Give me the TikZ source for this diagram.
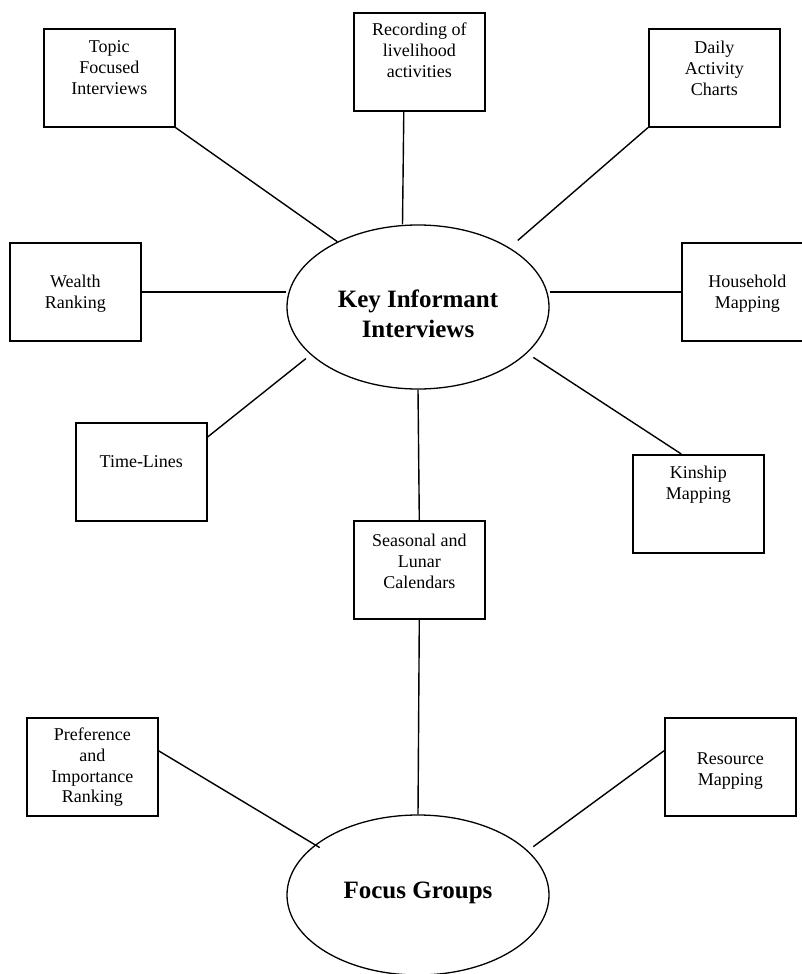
\documentclass[tikz,border=0pt]{standalone}
\usepackage{fontspec}
\setmainfont{Liberation Serif}
\usetikzlibrary{shapes.geometric,calc}
\newcommand{\boxtxt}[2]{\parbox[c][98pt][t]{131pt}{\centering\fontsize{18}{20.6}\selectfont\rule{0pt}{#1}#2}}
\newcommand{\elltxt}[3]{\parbox[c][#1][t]{180pt}{\centering\fontsize{25}{30}\selectfont\bfseries\rule{0pt}{#2}#3}}
\tikzset{
  infobox/.style={draw, line width=1.6pt, inner sep=0pt, anchor=north west},
  hub/.style={ellipse, draw, line width=1.3pt, inner sep=0pt, minimum width=262pt},
  link/.style={line width=1.4pt}
}
\begin{document}
\begin{tikzpicture}[x=1pt,y=-1pt]
\useasboundingbox (0,0) rectangle (802,974);
% hubs
\node[hub, minimum height=164pt] (key) at (418,307) {\elltxt{60pt}{30pt}{Key Informant\\Interviews}};
\node[hub, minimum height=160pt] (focus) at (418,895) {\elltxt{66pt}{36pt}{Focus Groups}};
% boxes
\node[infobox] (topic) at (43,28) {\boxtxt{24pt}{Topic\\Focused\\Interviews}};
\node[infobox] (rec) at (353,12) {\boxtxt{23pt}{Recording of\\livelihood\\activities}};
\node[infobox] (daily) at (648,28) {\boxtxt{25pt}{Daily\\Activity\\Charts}};
\node[infobox] (wealth) at (9,242) {\boxtxt{45pt}{Wealth\\Ranking}};
\node[infobox] (house) at (681,242) {\boxtxt{45pt}{Household\\Mapping}};
\node[infobox] (time) at (75,422) {\boxtxt{45pt}{Time-Lines}};
\node[infobox] (kin) at (632,454) {\boxtxt{24pt}{Kinship\\Mapping}};
\node[infobox] (seas) at (353,520) {\boxtxt{26pt}{Seasonal and\\Lunar\\Calendars}};
\node[infobox] (pref) at (26,717) {\boxtxt{23pt}{Preference\\and\\Importance\\Ranking}};
\node[infobox] (res) at (664,717) {\boxtxt{47pt}{Resource\\Mapping}};
% connectors
\draw[link] (topic.south east) -- (key.141.3);
\draw[link] ([xshift=-15.5pt]rec.south) -- ([xshift=-15.5pt]key.north);
\draw[link, shorten >=11pt] (daily.south west) -- (key.33.7);
\draw[link] (wealth.east) -- (wealth.east -| key.west);
\draw[link] (house.west -| key.east) -- (house.west);
\draw[link, shorten >=6pt] ([yshift=-15pt]time.north east) -- (key.-156.6);
\draw[link, shorten >=7.5pt] ([xshift=-17pt]kin.north) -- (key.-23.1);
\draw[link] (key.south) -- (seas.north);
\draw[link] (seas.south) -- (focus.north);
\draw[link, shorten >=-5.5pt] ([yshift=16pt]pref.east) -- (focus.154.4);
\draw[link, shorten >=6.6pt] ([yshift=16pt]res.west) -- (focus.22.2);
\end{tikzpicture}
\end{document}
